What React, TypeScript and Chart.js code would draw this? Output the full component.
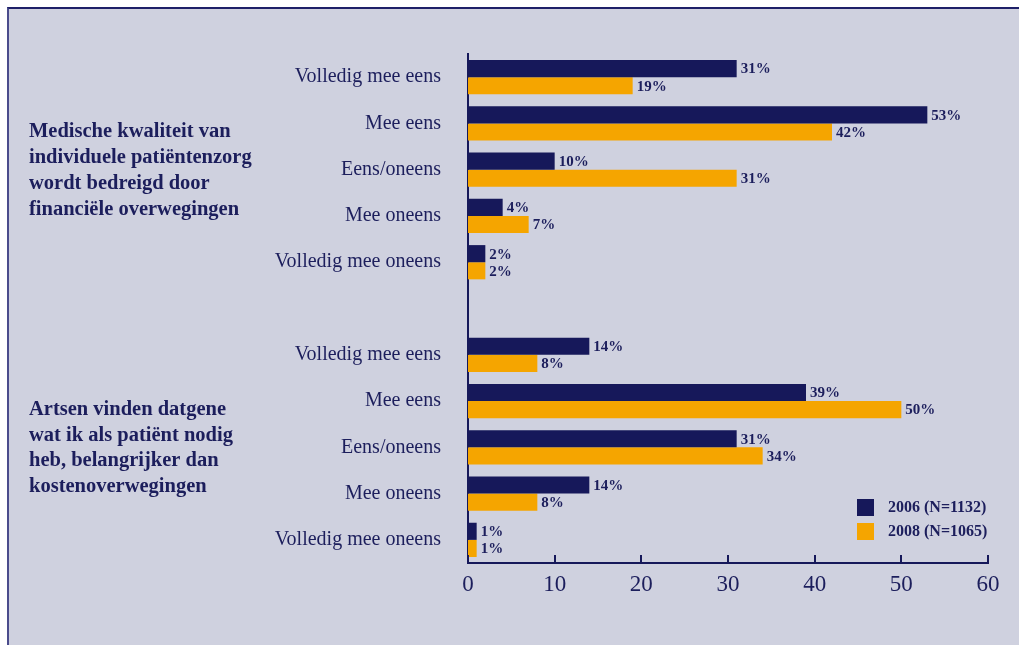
import React, { useEffect, useRef } from "react";
import { Chart, registerables } from "chart.js";
Chart.register(...registerables);

const categories = [
  "Volledig mee eens", "Mee eens", "Eens/oneens", "Mee oneens", "Volledig mee oneens",
  "",
  "Volledig mee eens", "Mee eens", "Eens/oneens", "Mee oneens", "Volledig mee oneens",
];
const values2006 = [31, 53, 10, 4, 2, null, 14, 39, 31, 14, 1];
const values2008 = [19, 42, 31, 7, 2, null, 8, 50, 34, 8, 1];
const seriesNames = ["2006 (N=1132)", "2008 (N=1065)"];
const groupLabels = [
  ["Medische kwaliteit van", "individuele patiëntenzorg", "wordt bedreigd door", "financiële overwegingen"],
  ["Artsen vinden datgene", "wat ik als patiënt nodig", "heb, belangrijker dan", "kostenoverwegingen"],
];
const groupCenterIndex = [2, 8];
const xTicks = [0, 10, 20, 30, 40, 50, 60];

const NAVY = "#16185a";
const ORANGE = "#f5a500";
const TEXT = "#1c1e5c";
const SERIF = "'Liberation Serif', 'DejaVu Serif', serif";

const overlayPlugin = {
  id: "overlay",
  afterDatasetsDraw(chart: any) {
    const ctx = chart.ctx;
    ctx.save();
    ctx.font = `bold 15px ${SERIF}`;
    ctx.fillStyle = TEXT;
    ctx.textBaseline = "middle";
    ctx.textAlign = "left";
    chart.data.datasets.forEach((ds: any, di: number) => {
      const meta = chart.getDatasetMeta(di);
      meta.data.forEach((el: any, i: number) => {
        const v = ds.data[i];
        if (v === null || v === undefined) return;
        ctx.fillText(`${v}%`, el.x + 4, el.y + 1);
      });
    });
    ctx.restore();
  },
  afterDraw(chart: any) {
    const ctx = chart.ctx;
    const xs = chart.scales.x;
    const ys = chart.scales.y;
    const area = chart.chartArea;
    ctx.save();
    ctx.strokeStyle = NAVY;
    ctx.lineWidth = 2;
    xTicks.forEach((t) => {
      const px = Math.round(xs.getPixelForValue(t));
      ctx.beginPath();
      ctx.moveTo(px, area.bottom);
      ctx.lineTo(px, area.bottom - 8);
      ctx.stroke();
    });
    ctx.font = `bold 20.5px ${SERIF}`;
    ctx.fillStyle = TEXT;
    ctx.textAlign = "left";
    ctx.textBaseline = "middle";
    groupLabels.forEach((lines, gi) => {
      const cy = ys.getPixelForValue(groupCenterIndex[gi]);
      const lh = 25.7;
      const start = cy - ((lines.length - 1) * lh) / 2 + 1;
      lines.forEach((ln, li) => ctx.fillText(ln, 29, start + li * lh));
    });
    const colors = [NAVY, ORANGE];
    ctx.font = `bold 16px ${SERIF}`;
    seriesNames.forEach((name, i) => {
      const top = 499 + i * 24;
      ctx.fillStyle = colors[i];
      ctx.fillRect(857, top, 17, 17);
      ctx.fillStyle = TEXT;
      ctx.fillText(name, 888, top + 9);
    });
    ctx.restore();
  },
};

export default function App() {
  const ref = useRef<HTMLCanvasElement>(null);
  useEffect(() => {
    if (!ref.current) return;
    const chart = new Chart(ref.current, {
      type: "bar",
      data: {
        labels: categories,
        datasets: [
          { label: seriesNames[0], data: values2006 as any, backgroundColor: NAVY, categoryPercentage: 0.74, barPercentage: 1 },
          { label: seriesNames[1], data: values2008 as any, backgroundColor: ORANGE, categoryPercentage: 0.74, barPercentage: 1 },
        ],
      },
      options: {
        indexAxis: "y",
        responsive: false,
        animation: false,
        layout: { padding: { top: 54, right: 31, left: 0, bottom: 0 } },
        plugins: { legend: { display: false }, tooltip: { enabled: false } },
        scales: {
          x: {
            min: 0,
            max: 60,
            afterFit: (s: any) => { s.height = 82; },
            afterBuildTicks: (s: any) => { s.ticks = xTicks.map((v) => ({ value: v })); },
            grid: { display: false, drawTicks: false },
            border: { display: true, color: NAVY, width: 2 },
            ticks: { color: TEXT, font: { family: SERIF, size: 23 }, padding: 8 },
          },
          y: {
            afterFit: (s: any) => { s.width = 468; },
            grid: { display: false, drawTicks: false },
            border: { display: true, color: NAVY, width: 2 },
            ticks: { color: TEXT, font: { family: SERIF, size: 20 }, padding: 27, autoSkip: false },
          },
        },
      },
      plugins: [overlayPlugin],
    });
    return () => chart.destroy();
  }, []);
  return (
    <div style={{ position: "absolute", left: 0, top: 0, width: 1019, height: 645, background: "#ffffff", overflow: "hidden" }}>
      <div style={{ position: "absolute", left: 7, top: 7, width: 1019, height: 645, background: "#cfd1df", borderTop: "2px solid #1e2068", borderLeft: "2px solid #4a4c8c", boxSizing: "border-box" }} />
      <canvas ref={ref} width={1019} height={645} style={{ position: "absolute", left: 0, top: 0, width: 1019, height: 645 }} />
    </div>
  );
}
